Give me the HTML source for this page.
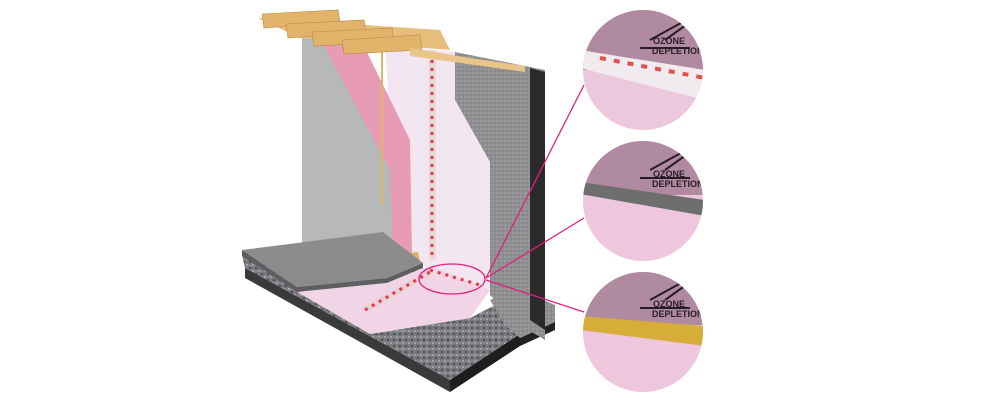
<!DOCTYPE html>
<html><head><meta charset="utf-8"><style>html,body{margin:0;padding:0;background:#fff}svg{display:block}</style></head>
<body>
<svg width="1000" height="400" viewBox="0 0 1000 400" xmlns="http://www.w3.org/2000/svg">
<defs>
<pattern id="grav" width="6" height="6" patternUnits="userSpaceOnUse">
<rect width="6" height="6" fill="#7a7a7e"/><circle cx="1" cy="1" r="1" fill="#b0b0b4"/><circle cx="4" cy="4" r="1.1" fill="#4a4a4e"/><circle cx="4" cy="1" r=".6" fill="#8fb6c4"/></pattern>
<pattern id="conc" width="4" height="4" patternUnits="userSpaceOnUse">
<rect width="4" height="4" fill="#909092"/><circle cx="1" cy="1" r=".7" fill="#a8a8aa"/><circle cx="3" cy="3" r=".6" fill="#747476"/></pattern>
<clipPath id="c1"><circle cx="643" cy="70" r="60"/></clipPath>
<clipPath id="c2"><circle cx="643" cy="201" r="60"/></clipPath>
<clipPath id="c3"><circle cx="643" cy="332" r="60"/></clipPath>
</defs>
<!-- gravel base -->
<polygon points="242,255 297,289 370,334 470,318 495,305 520,318 520,334 450,380 245,268" fill="url(#grav)"/>
<polygon points="450,380 520,334 520,346 450,392" fill="#1e1e1e"/>
<polygon points="245,268 450,380 450,392 245,278" fill="#3a3a3a"/>
<!-- footing -->
<polygon points="490,300 520,290 555,305 555,322 520,338 505,325" fill="url(#conc)"/>
<polygon points="520,338 555,322 555,330 520,346" fill="#222"/>
<polygon points="492,298 520,292 545,304 525,312" fill="#34b3e0"/>
<!-- gray drywall -->
<polygon points="302,38 340,35 405,160 405,250 390,258 302,250" fill="#b7b8ba"/>
<!-- foam panel -->
<polygon points="385,45 455,52 455,100 490,162 490,290 470,318 430,270 405,250 405,160 390,120" fill="#f4e6f1"/>
<!-- insulation -->
<polygon points="322,42 360,38 410,140 412,255 393,258 390,170" fill="#e79bb4"/>
<line x1="382" y1="42" x2="382" y2="205" stroke="#e0b560" stroke-width="2"/>
<polygon points="392,255 418,252 420,262 392,262" fill="#e0b060"/>
<!-- tape vertical -->
<rect x="429" y="50" width="7" height="210" fill="#e8d8dc"/>
<line x1="432" y1="52" x2="432" y2="260" stroke="#e23a45" stroke-width="3" stroke-dasharray="3,5"/>
<!-- concrete wall -->
<polygon points="455,52 545,70 545,340 520,325 490,295 490,162 455,100" fill="url(#conc)"/>
<polygon points="530,68 545,72 545,330 530,320" fill="#2a2a2a"/>
<!-- joists -->
<polygon points="258,18 440,30 450,50 300,38" fill="#e6bd7a"/>
<g fill="#e2b36b" stroke="#b88840" stroke-width=".6">
<polygon points="262,14 338,10 340,22 264,28"/>
<polygon points="286,24 364,20 366,32 288,38"/>
<polygon points="312,32 392,28 394,42 314,46"/>
<polygon points="342,40 420,35 422,50 344,54"/>
</g>
<polygon points="410,48 470,58 525,66 525,72 410,56" fill="#e9c58a"/>
<!-- floor slab -->
<polygon points="242,250 383,232 423,263 387,278 297,287" fill="#8b8b8d"/>
<polygon points="242,250 297,287 387,278 423,263 423,268 387,283 297,292 242,256" fill="#5e5e60"/>
<!-- pink floor -->
<polygon points="297,292 387,283 423,268 432,266 490,290 470,318 370,334" fill="#f1d4e6"/>
<line x1="365" y1="310" x2="430" y2="272" stroke="#e8d0d6" stroke-width="6"/>
<line x1="365" y1="310" x2="430" y2="272" stroke="#e23a45" stroke-width="3" stroke-dasharray="3,5"/>
<line x1="430" y1="270" x2="480" y2="285" stroke="#e23a45" stroke-width="3" stroke-dasharray="3,5"/>
<!-- callout -->
<g stroke="#e0207e" stroke-width="1.3" fill="none">
<ellipse cx="452" cy="279" rx="33" ry="15"/>
<line x1="486" y1="278" x2="584" y2="85"/>
<line x1="486" y1="278" x2="584" y2="218"/>
<line x1="486" y1="280" x2="584" y2="312"/>
</g>
<!-- circles -->
<g font-family="Liberation Sans,sans-serif" font-weight="bold" fill="#2a1c25">
<g clip-path="url(#c1)">
<rect x="580" y="8" width="130" height="125" fill="#ecc8dd"/>
<rect x="580" y="8" width="130" height="62" fill="#b08aa0"/>
<polygon points="580,50 705,70 705,100 580,68" fill="#f1eaee"/>
<line x1="600" y1="58" x2="705" y2="78" stroke="#e25050" stroke-width="4" stroke-dasharray="6,8"/>
<path d="M650 40 L690 18 M665 40 L700 15 M640 48 h50" stroke="#2a1c25" stroke-width="2" fill="none"/>
<text x="653" y="44" font-size="9">OZONE</text>
<text x="652" y="54" font-size="9">DEPLETION</text>
</g>
<g clip-path="url(#c2)">
<rect x="580" y="140" width="130" height="125" fill="#eec6de"/>
<rect x="580" y="140" width="130" height="55" fill="#b08aa0"/>
<polygon points="580,182 705,200 705,216 580,194" fill="#6e6e6e"/>
<path d="M650 170 L690 148 M665 170 L700 145 M640 178 h50" stroke="#2a1c25" stroke-width="2" fill="none"/>
<text x="653" y="177" font-size="9">OZONE</text>
<text x="652" y="187" font-size="9">DEPLETION</text>
</g>
<g clip-path="url(#c3)">
<rect x="580" y="270" width="130" height="125" fill="#eec6de"/>
<rect x="580" y="270" width="130" height="55" fill="#b08aa0"/>
<polygon points="580,316 705,326 705,346 580,330" fill="#d7ad3a"/>
<path d="M650 300 L690 278 M665 300 L700 275 M640 308 h50" stroke="#2a1c25" stroke-width="2" fill="none"/>
<text x="653" y="307" font-size="9">OZONE</text>
<text x="652" y="317" font-size="9">DEPLETION</text>
</g>
</g>
</svg>
</body></html>
